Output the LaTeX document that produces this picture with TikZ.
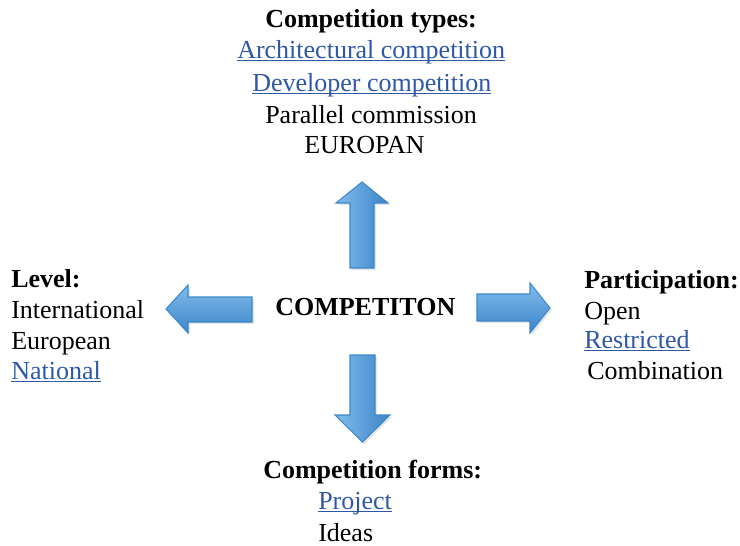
\documentclass[tikz,border=0pt]{standalone}
\usepackage{fontspec}
\setmainfont{Liberation Serif}
\usepackage{tikz}
\usetikzlibrary{shadows}

\definecolor{linkblue}{RGB}{46,88,166}
\definecolor{arrowedge}{RGB}{62,136,200}
\definecolor{arrowlight}{RGB}{130,188,236}
\definecolor{arrowdark}{RGB}{58,132,200}

\newcommand{\linktext}[1]{\textcolor{linkblue}{\setbox0\hbox{#1}\rlap{\rule[-2.6pt]{\wd0}{0.8pt}}\box0}}

\tikzset{
  lbl/.style={anchor=base west,inner sep=0pt,font=\fontsize{19.5}{23.6}\selectfont},
  head/.style={lbl,font=\fontsize{19.5}{23.6}\selectfont\bfseries},
  vblock/.style={draw=arrowedge,line width=0.8pt,line join=miter,left color=arrowlight,right color=arrowdark,drop shadow={opacity=0.2,shadow xshift=1.5pt,shadow yshift=-1.5pt}},
  hblock/.style={draw=arrowedge,line width=0.8pt,line join=miter,top color=arrowlight,bottom color=arrowdark,drop shadow={opacity=0.2,shadow xshift=1.5pt,shadow yshift=-1.5pt}}
}

\begin{document}
\begin{tikzpicture}[x=0.75pt,y=0.75pt,yscale=-1,xscale=1]
        \path[use as bounding box] (0,0) rectangle (740,546);

        %Shape: Up Arrow
        \path[vblock] (350,268) -- (350,203) -- (336,203) -- (362,182) -- (388,203) -- (374,203) -- (374,268) -- cycle ;
        %Shape: Down Arrow
        \path[vblock] (350,355) -- (350,415) -- (335,415) -- (362.5,442) -- (390,415) -- (375,415) -- (375,355) -- cycle ;
        %Shape: Left Arrow
        \path[hblock] (252,297) -- (188,297) -- (188,285) -- (166,309) -- (188,333) -- (188,322) -- (252,322) -- cycle ;
        %Shape: Right Arrow
        \path[hblock] (477,294) -- (530,294) -- (530,283) -- (550,308) -- (530,333) -- (530,321) -- (477,321) -- cycle ;

        % Text Node
        \node[head] (centre) at (275,315) {COMPETITON};

        % Text Node
        \node[head] (typesHead) at (265,27) {Competition types:};
        % Text Node
        \node[lbl] (typesArch) at (237,58) {\linktext{Architectural competition}};
        % Text Node
        \node[lbl] (typesDev) at (252,91) {\linktext{Developer competition}};
        % Text Node
        \node[lbl] (typesPar) at (265,123) {Parallel commission};
        % Text Node
        \node[lbl] (typesEur) at (304,153) {EUROPAN};

        % Text Node
        \node[head] (levelHead) at (11,287) {Level:};
        % Text Node
        \node[lbl] (levelInt) at (11,318) {International};
        % Text Node
        \node[lbl] (levelEur) at (11,349) {European};
        % Text Node
        \node[lbl] (levelNat) at (11,379) {\linktext{National}};

        % Text Node
        \node[head] (partHead) at (584,288) {Participation:};
        % Text Node
        \node[lbl] (partOpen) at (584,319) {Open};
        % Text Node
        \node[lbl] (partRes) at (584,348) {\linktext{Restricted}};
        % Text Node
        \node[lbl] (partComb) at (587,379) {Combination};

        % Text Node
        \node[head] (formsHead) at (263,478) {Competition forms:};
        % Text Node
        \node[lbl] (formsProj) at (318,509) {\linktext{Project}};
        % Text Node
        \node[lbl] (formsIdeas) at (318,541) {Ideas};

\end{tikzpicture}
\end{document}
